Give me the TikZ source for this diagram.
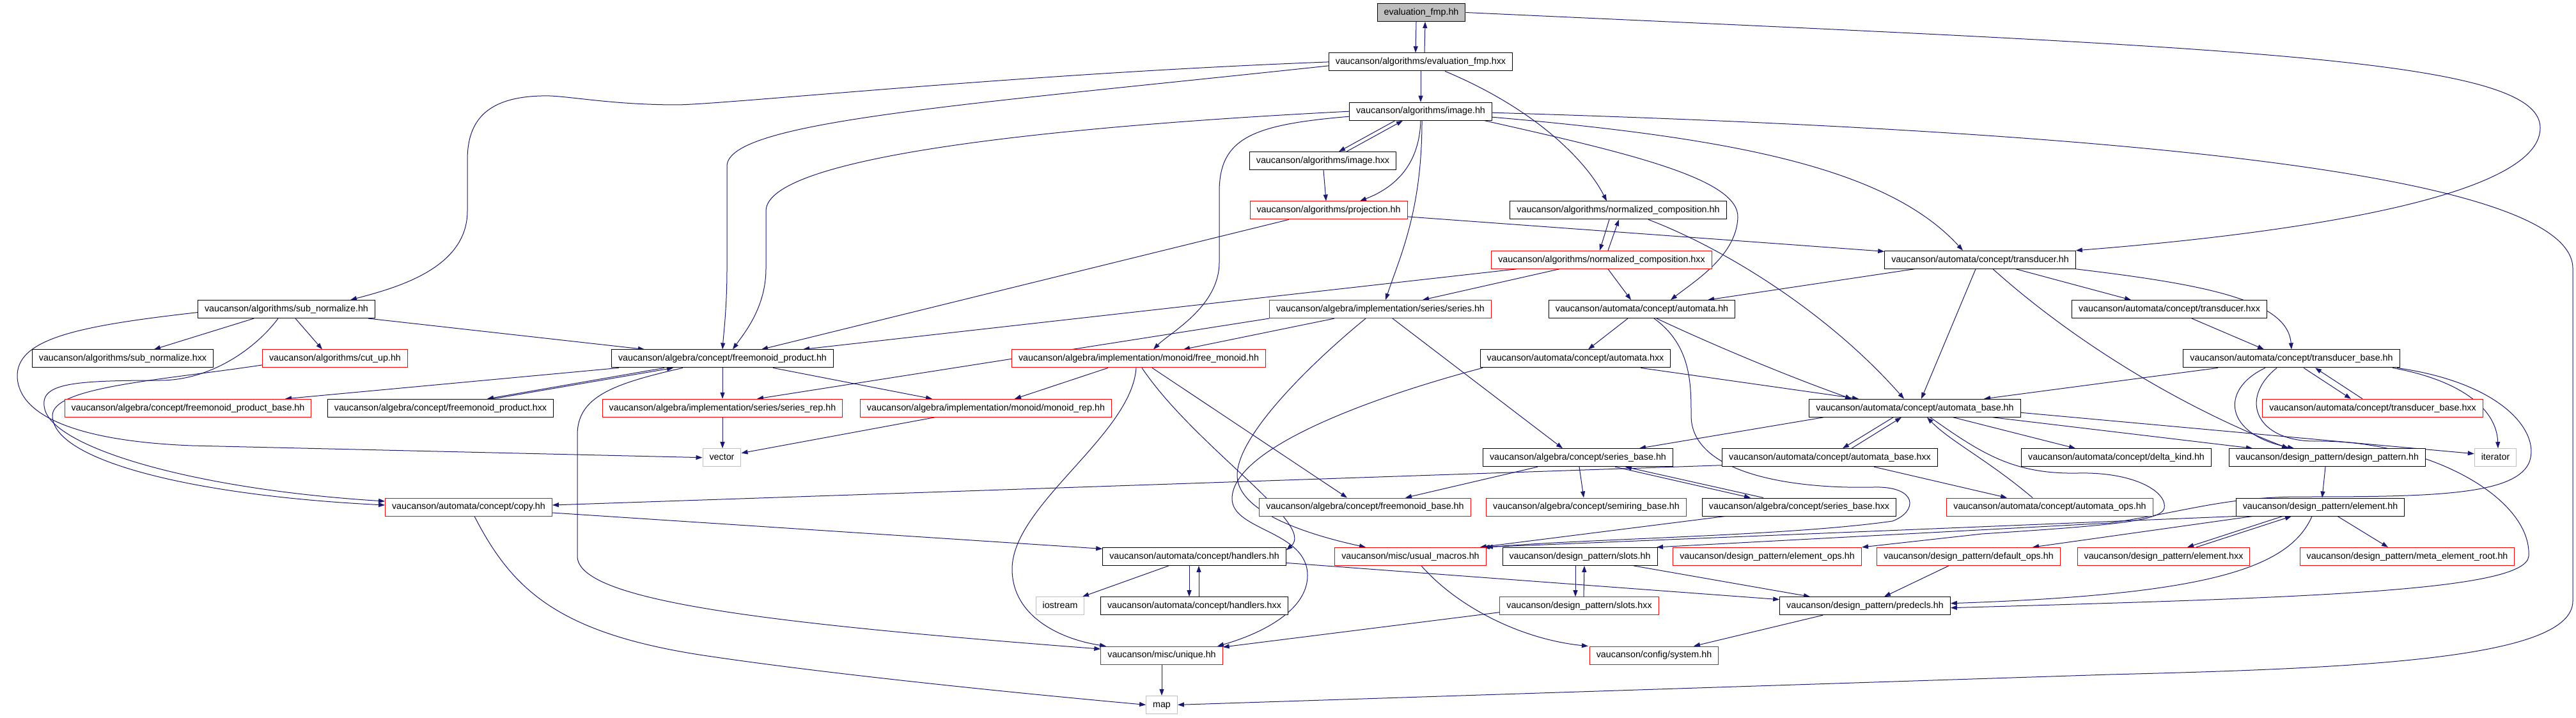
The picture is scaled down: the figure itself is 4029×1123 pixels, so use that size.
\documentclass[tikz,border=0pt]{standalone}
\usepackage{fontspec}
\setmainfont{Liberation Sans}
\usepackage{xcolor}
\usepackage{tikz}
\usetikzlibrary{arrows.meta}
\usetikzlibrary{backgrounds}
\definecolor{edgeblue}{HTML}{191970}
\definecolor{sysgray}{HTML}{BFBFBF}

\begin{document}
\begin{tikzpicture}[x=1pt,y=-1pt,
	hdr/.style={draw=black,line width=1pt,fill=white,font=\fontsize{14.3}{16}\selectfont,inner xsep=10.5pt,inner ysep=0pt,minimum height=28pt,text height=10.5pt,text depth=3pt},
	redhdr/.style={hdr,draw=red},
	syshdr/.style={hdr,draw=sysgray},
	roothdr/.style={hdr,fill=sysgray},
	inc/.style={draw=edgeblue,line width=1pt,-{Triangle[length=10pt,width=7pt]}}]
		\useasboundingbox (0,0) rectangle (4029,1123);
		\node[roothdr] (EVh) at (2223,19.5) {evaluation\_fmp.hh};
		\node[hdr] (EVx) at (2222,96.9) {vaucanson/algorithms/evaluation\_fmp.hxx};
		\node[hdr] (IMh) at (2222,174.2) {vaucanson/algorithms/image.hh};
		\node[hdr] (IMx) at (2069,251.6) {vaucanson/algorithms/image.hxx};
		\node[redhdr] (PRh) at (2078,328.9) {vaucanson/algorithms/projection.hh};
		\node[hdr] (NCh) at (2531,328.9) {vaucanson/algorithms/normalized\_composition.hh};
		\node[redhdr] (NCx) at (2505,406.3) {vaucanson/algorithms/normalized\_composition.hxx};
		\node[hdr] (TRh) at (3097,406.3) {vaucanson/automata/concept/transducer.hh};
		\node[hdr] (SNh) at (448,483.6) {vaucanson/algorithms/sub\_normalize.hh};
		\node[redhdr] (SEh) at (2159,483.6) {vaucanson/algebra/implementation/series/series.hh};
		\node[hdr] (AUh) at (2568,483.6) {vaucanson/automata/concept/automata.hh};
		\node[hdr] (TRx) at (3393,483.6) {vaucanson/automata/concept/transducer.hxx};
		\node[hdr] (SNx) at (192,560.9) {vaucanson/algorithms/sub\_normalize.hxx};
		\node[redhdr] (CUh) at (524,560.9) {vaucanson/algorithms/cut\_up.hh};
		\node[hdr] (FPh) at (1130,560.9) {vaucanson/algebra/concept/freemonoid\_product.hh};
		\node[redhdr] (FMh) at (1781,560.9) {vaucanson/algebra/implementation/monoid/free\_monoid.hh};
		\node[hdr] (AUx) at (2464,560.9) {vaucanson/automata/concept/automata.hxx};
		\node[hdr] (TBh) at (3584,560.9) {vaucanson/automata/concept/transducer\_base.hh};
		\node[redhdr] (FBh) at (294,638.3) {vaucanson/algebra/concept/freemonoid\_product\_base.hh};
		\node[hdr] (FPx) at (689,638.3) {vaucanson/algebra/concept/freemonoid\_product.hxx};
		\node[redhdr] (SRh) at (1130,638.3) {vaucanson/algebra/implementation/series/series\_rep.hh};
		\node[redhdr] (MRh) at (1542,638.3) {vaucanson/algebra/implementation/monoid/monoid\_rep.hh};
		\node[hdr] (ABh) at (2995,638.3) {vaucanson/automata/concept/automata\_base.hh};
		\node[redhdr] (TBx) at (3711,638.3) {vaucanson/automata/concept/transducer\_base.hxx};
		\node[syshdr] (VEC) at (1129,715.7) {vector};
		\node[hdr] (SBh) at (2468,715.7) {vaucanson/algebra/concept/series\_base.hh};
		\node[hdr] (AHx) at (2862,715.7) {vaucanson/automata/concept/automata\_base.hxx};
		\node[hdr] (DKh) at (3310,715.7) {vaucanson/automata/concept/delta\_kind.hh};
		\node[hdr] (DPh) at (3640,715.7) {vaucanson/design\_pattern/design\_pattern.hh};
		\node[syshdr] (ITR) at (3903,715.7) {iterator};
		\node[redhdr] (CPh) at (733,793) {vaucanson/automata/concept/copy.hh};
		\node[redhdr] (FBM) at (2135,793) {vaucanson/algebra/concept/freemonoid\_base.hh};
		\node[redhdr] (SMB) at (2481,793) {vaucanson/algebra/concept/semiring\_base.hh};
		\node[hdr] (SBx) at (2814,793) {vaucanson/algebra/concept/series\_base.hxx};
		\node[redhdr] (AOh) at (3206,793) {vaucanson/automata/concept/automata\_ops.hh};
		\node[hdr] (ELh) at (3629,793) {vaucanson/design\_pattern/element.hh};
		\node[hdr] (HAh) at (1868,870.4) {vaucanson/automata/concept/handlers.hh};
		\node[redhdr] (UMh) at (2206,870.4) {vaucanson/misc/usual\_macros.hh};
		\node[hdr] (SLh) at (2471,870.4) {vaucanson/design\_pattern/slots.hh};
		\node[redhdr] (EOh) at (2764,870.4) {vaucanson/design\_pattern/element\_ops.hh};
		\node[redhdr] (DOh) at (3079,870.4) {vaucanson/design\_pattern/default\_ops.hh};
		\node[redhdr] (EXh) at (3384,870.4) {vaucanson/design\_pattern/element.hxx};
		\node[redhdr] (MEh) at (3765,870.4) {vaucanson/design\_pattern/meta\_element\_root.hh};
		\node[syshdr] (IOS) at (1658,947.7) {iostream};
		\node[hdr] (HAx) at (1868,947.7) {vaucanson/automata/concept/handlers.hxx};
		\node[redhdr] (SLx) at (2470,947.7) {vaucanson/design\_pattern/slots.hxx};
		\node[hdr] (PDh) at (2917,947.7) {vaucanson/design\_pattern/predecls.hh};
		\node[redhdr] (UNh) at (1817,1025.1) {vaucanson/misc/unique.hh};
		\node[redhdr] (SYh) at (2587,1025.1) {vaucanson/config/system.hh};
		\node[syshdr] (MAP) at (1817,1102.4) {map};
		\begin{scope}[on background layer]
		\fill[white] (0,0) rectangle (4029,1123);
		\draw[inc] ([xshift=-8]EVh.south) -- ([xshift=-8]EVx.north);
		\draw[inc] ([xshift=6]EVx.north) -- ([xshift=6]EVh.south);
		\draw[inc] (EVh.east) .. controls (3500,75) and (3973,90) .. (3973,200) .. controls (3973,320) and (3500,372) .. (TRh.north east);
		\draw[inc] (EVx.south) -- (IMh.north);
		\draw[inc] ([xshift=38]EVx.south) .. controls (2400,170) and (2480,250) .. ([xshift=-18]NCh.north);
		\draw[inc] (EVx.west) .. controls (1600,115) and (1150,162) .. (1060,164) .. controls (950,164) and (880,148) .. (847,150) .. controls (760,152) and (731,190) .. (731,250) -- (731,330) .. controls (731,420) and (620,450) .. ([xshift=100]SNh.north);
		\draw[inc] ([yshift=-6]EVx.west) .. controls (1500,165) and (1137,190) .. (1137,260) -- (1137,420) .. controls (1137,480) and (1132,520) .. (FPh.north);
		\draw[inc] ([xshift=-40]IMh.south) -- ([xshift=25]IMx.north);
		\draw[inc] ([xshift=37]IMx.north) -- ([xshift=-28]IMh.south);
		\draw[inc] (IMh.south) .. controls (2220,255) and (2185,292) .. ([xshift=49]PRh.north);
		\draw[inc] ([xshift=2]IMh.south) .. controls (2224,330) and (2190,400) .. ([xshift=8]SEh.north);
		\draw[inc] (IMh.west) .. controls (1700,195) and (1198,240) .. (1198,330) -- (1198,420) .. controls (1198,480) and (1165,520) .. ([xshift=16]FPh.north);
		\draw[inc] ([yshift=-8]IMh.west) .. controls (1960,195) and (1907,215) .. (1907,300) -- (1907,410) .. controls (1907,480) and (1830,520) .. ([xshift=23]FMh.north);
		\draw[inc] ([xshift=100]IMh.south) .. controls (2550,240) and (2720,280) .. (2718,340) .. controls (2716,400) and (2650,440) .. ([xshift=45]AUh.north);
		\draw[inc] ([yshift=-9]IMh.east) .. controls (2700,215) and (2950,260) .. ([xshift=-27]TRh.north);
		\draw[inc] ([yshift=-2]IMh.east) .. controls (3300,205) and (4024,270) .. (4024,420) -- (4024,940) .. controls (4024,1030) and (3700,1045) .. (3300,1055) -- (MAP.east);
		\draw[inc] ([xshift=1]IMx.south) -- ([xshift=-4]PRh.north);
		\draw[inc] ([xshift=-62]PRh.south) -- ([xshift=61]FPh.north);
		\draw[inc] ([yshift=-10]PRh.east) -- ([yshift=13]TRh.west);
		\draw[inc] ([xshift=-14]NCh.south) -- ([xshift=-3]NCx.north);
		\draw[inc] ([xshift=10]NCx.north) -- ([xshift=1]NCh.south);
		\draw[inc] ([xshift=47]NCh.south) .. controls (2700,390) and (2860,490) .. ([xshift=-17]ABh.north);
		\draw[inc] ([xshift=-133]NCx.south) -- ([xshift=126]FPh.north);
		\draw[inc] ([xshift=-66]NCx.south) -- ([xshift=66]SEh.north);
		\draw[inc] ([xshift=10]NCx.south) -- ([xshift=-17]AUh.north);
		\draw[inc] ([xshift=-103]TRh.south) -- ([xshift=103]AUh.north);
		\draw[inc] ([xshift=56]TRh.south) -- ([xshift=-60]TRx.north);
		\draw[inc] (TRh.south east) .. controls (3450,445) and (3578,470) .. (TBh.north);
		\draw[inc] ([xshift=-7]TRh.south) -- ([xshift=10]ABh.north);
		\draw[inc] ([xshift=20]TRh.south) .. controls (3250,540) and (3420,640) .. ([xshift=-61]DPh.north);
		\draw[inc] ([xshift=35]TRx.south) -- ([xshift=-43]TBh.north);
		\draw[inc] ([xshift=-51]SNh.south) -- ([xshift=49]SNx.north);
		\draw[inc] ([xshift=14]SNh.south) -- ([xshift=-20]CUh.north);
		\draw[inc] ([xshift=128]SNh.south) -- ([xshift=-122]FPh.north);
		\draw[inc] ([yshift=-5]SNh.west) .. controls (120,510) and (25,530) .. (27,590) .. controls (30,650) and (120,690) .. (300,697) -- (VEC.west);
		\draw[inc] ([xshift=-13]SNh.south) .. controls (400,545) and (330,595) .. (250,595) .. controls (110,595) and (60,600) .. (70,640) .. controls (85,700) and (300,765) .. ([yshift=9]CPh.west);
		\draw[inc] ([yshift=-10]CUh.west) .. controls (250,595) and (82,605) .. (82,650) .. controls (82,720) and (300,775) .. ([yshift=3]CPh.west);
		\draw[inc] ([yshift=-9]CPh.east) -- ([yshift=12]HAh.west);
		\draw[inc] ([xshift=9]CPh.south) .. controls (800,920) and (870,990) .. (1100,1025) .. controls (1300,1055) and (1600,1085) .. (MAP.west);
		\draw[inc] ([yshift=-12]AHx.west) -- ([yshift=3]CPh.east);
		\draw[inc] ([xshift=-162]FPh.south) -- ([xshift=152]FBh.north);
		\draw[inc] ([xshift=-91]FPh.south) -- ([xshift=73]FPx.north);
		\draw[inc] ([xshift=82]FPx.north) -- ([xshift=-77]FPh.south);
		\draw[inc] (FPh.south) -- (SRh.north);
		\draw[inc] ([xshift=79]FPh.south) -- ([xshift=-84]MRh.north);
		\draw[inc] ([xshift=-62]FPh.south) .. controls (960,600) and (903,620) .. (903,680) -- (903,870) .. controls (903,940) and (1200,975) .. ([yshift=10]UNh.west);
		\draw[inc] (SEh.south west) -- ([xshift=54]SRh.north);
		\draw[inc] ([xshift=-72]SEh.south) -- ([xshift=70]FMh.north);
		\draw[inc] ([xshift=19]SEh.south) -- ([xshift=-24]SBh.north);
		\draw[inc] ([xshift=-23]SEh.south) .. controls (2060,560) and (1933,680) .. (1935,745) .. controls (1937,800) and (2040,835) .. ([xshift=-70]UMh.north);
		\draw[inc] ([xshift=-48]FMh.south) -- ([xshift=45]MRh.north);
		\draw[inc] ([xshift=-4]FMh.south) .. controls (1770,680) and (1583,790) .. (1583,890) .. controls (1583,965) and (1660,1000) .. ([xshift=-87]UNh.north);
		\draw[inc] ([xshift=5]FMh.south) .. controls (1870,700) and (2060,820) .. ([yshift=10]HAh.east);
		\draw[inc] ([xshift=21]FMh.south) -- ([xshift=-28]FBM.north);
		\draw[inc] ([xshift=-145]AUx.south) .. controls (2150,620) and (1927,700) .. (1927,780) .. controls (1927,830) and (2045,830) .. (2045,900) .. controls (2045,960) and (1960,995) .. ([xshift=87]UNh.north);
		\draw[inc] (SRh.south) -- ([xshift=1]VEC.north);
		\draw[inc] ([xshift=-80]MRh.south) -- ([yshift=7]VEC.east);
		\draw[inc] ([xshift=-40]HAh.south) -- ([xshift=35]IOS.north);
		\draw[inc] ([xshift=-8]HAh.south) -- ([xshift=-8]HAx.north);
		\draw[inc] ([xshift=7]HAx.north) -- ([xshift=7]HAh.south);
		\draw[inc] ([yshift=-10]HAh.east) -- ([yshift=10]PDh.west);
		\draw[inc] (UNh.south) -- (MAP.north);
		\draw[inc] ([yshift=-10]SLx.west) -- ([yshift=13]UNh.east);
		\draw[inc] ([xshift=-7]SLh.south) -- ([xshift=-6]SLx.north);
		\draw[inc] ([xshift=7]SLx.north) -- ([xshift=7]SLh.south);
		\draw[inc] ([xshift=84]SLh.south) -- ([xshift=-86]PDh.north);
		\draw[inc] ([xshift=17]UMh.south) .. controls (2280,950) and (2380,1000) .. ([xshift=-103]SYh.north);
		\draw[inc] ([xshift=-66]PDh.south) -- ([xshift=62]SYh.north);
		\draw[inc] ([xshift=-22]AUh.south) -- ([xshift=20]AUx.north);
		\draw[inc] ([xshift=23]AUh.south) .. controls (2680,540) and (2800,590) .. ([xshift=-99]ABh.north);
		\draw[inc] ([xshift=19]AUh.south) .. controls (2645,540) and (2645,600) .. (2645,650) .. controls (2645,740) and (2800,765) .. (2930,762) .. controls (3000,760) and (3000,800) .. (2960,815) .. controls (2800,838) and (2500,842) .. (UMh.north east);
		\draw[inc] ([xshift=102]AUx.south) -- ([xshift=-88]ABh.north);
		\draw[inc] ([xshift=-34]ABh.south) -- ([xshift=20]AHx.north);
		\draw[inc] ([xshift=34]AHx.north) -- ([xshift=-21]ABh.south);
		\draw[inc] ([xshift=69]AHx.south) -- ([xshift=-67]AOh.north);
		\draw[inc] ([xshift=-27]AOh.north) .. controls (3110,720) and (3050,690) .. ([xshift=19]ABh.south);
		\draw[inc] ([xshift=60]ABh.south) -- ([xshift=-64]DKh.north);
		\draw[inc] ([xshift=122]ABh.south) -- ([xshift=-117]DPh.north);
		\draw[inc] ([yshift=-7]ABh.east) -- ([yshift=6]ITR.west);
		\draw[inc] ([xshift=-143]ABh.south) -- ([xshift=96]SBh.north);
		\draw[inc] ([xshift=24]ABh.south) .. controls (3100,710) and (3150,742) .. (3250,740) .. controls (3340,738) and (3390,770) .. (3385,795) .. controls (3380,815) and (3300,822) .. (3100,835) -- ([xshift=148]EOh.north);
		\draw[inc] ([xshift=19]TBh.south) -- ([xshift=-34]TBx.north);
		\draw[inc] ([xshift=-16]TBx.north) -- ([xshift=37]TBh.south);
		\draw[inc] ([xshift=-115]TBh.south) -- ([xshift=108]ABh.north);
		\draw[inc] ([xshift=-41]TBh.south) .. controls (3470,610) and (3480,680) .. ([xshift=-52]DPh.north);
		\draw[inc] ([xshift=158]TBh.south) .. controls (3850,595) and (3905,640) .. ([xshift=4]ITR.north);
		\draw[inc] ([xshift=-23]TBh.south) .. controls (3500,625) and (3530,690) .. (3620,690) .. controls (3800,688) and (3960,780) .. (3955,870) .. controls (3950,925) and (3600,935) .. ([yshift=-3]PDh.east);
		\draw[inc] ([xshift=165]TBh.south) .. controls (3920,600) and (3975,680) .. (3955,725) .. controls (3930,775) and (3800,777) .. (3600,777) .. controls (3480,777) and (3420,800) .. (3300,818) -- ([xshift=120]SLh.north);
		\draw[inc] ([xshift=-3]DPh.south) -- ([xshift=3]ELh.north);
		\draw[inc] ([xshift=-59]ELh.south) -- ([xshift=37]EXh.north);
		\draw[inc] ([xshift=51]EXh.north) -- ([xshift=-45]ELh.south);
		\draw[inc] ([xshift=27]ELh.south) -- ([xshift=-30]MEh.north);
		\draw[inc] ([xshift=-13]ELh.south) .. controls (3580,890) and (3450,930) .. ([yshift=4]PDh.east);
		\draw[inc] ([xshift=-106]ELh.south) -- ([xshift=100]DOh.north);
		\draw[inc] (ELh.south west) -- ([xshift=-5]UMh.north east);
		\draw[inc] ([xshift=-63]SBh.south) -- ([xshift=63]FBM.north);
		\draw[inc] ([xshift=2]SBh.south) -- ([xshift=-4]SMB.north);
		\draw[inc] ([xshift=58]SBh.south) -- ([xshift=-76]SBx.north);
		\draw[inc] ([xshift=-56]SBx.north) -- ([xshift=74]SBh.south);
		\draw[inc] ([xshift=-116]SBx.south) -- ([xshift=-10]UMh.north east);
		\draw[inc] ([xshift=-31]DOh.south) -- ([xshift=30]PDh.north);
		\end{scope}
	\end{tikzpicture}
\end{document}
